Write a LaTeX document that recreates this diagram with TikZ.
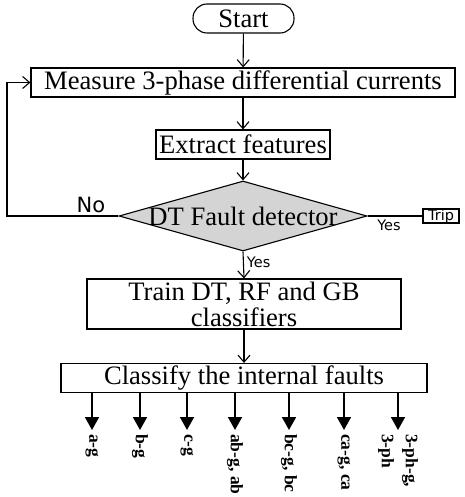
\documentclass[tikz,border=0pt]{standalone}
\usepackage{fontspec}
\setmainfont{Liberation Serif}
\newfontfamily\labelsans{DejaVu Sans}
\usepackage{tikz}
\usetikzlibrary{arrows.meta}
\usetikzlibrary{shapes.geometric}
\usetikzlibrary{calc,positioning}
\definecolor{detgray}{RGB}{212,212,212}

\begin{document}
\begin{tikzpicture}[x=1pt, y=-1pt,
    >={Straight Barb[length=7pt,width=12pt]},
    box/.style={draw, line width=1.1pt, inner sep=0pt, minimum height=29pt,
        font=\fontsize{26.6}{26}\selectfont},
    decision/.style={draw, line width=1.1pt, diamond, fill=detgray, inner sep=0pt,
        minimum width=248pt, minimum height=70pt, font=\fontsize{26.6}{26}\selectfont},
    flow/.style={->, line width=1.1pt},
    faultarrow/.style={-{Triangle[length=13pt,width=14pt]}, line width=1.8pt},
    faultlabel/.style={rotate=-90, anchor=west, align=left, inner sep=0pt,
        font=\fontsize{17.5}{24}\selectfont\bfseries},
    smalltext/.style={font=\labelsans\fontsize{14.5}{16}\selectfont, inner sep=0pt}]

    \useasboundingbox (0,0) rectangle (464,497);

    \node[box, rounded corners=14pt, minimum width=101pt] (start) at (243.5,18.5) {Start};
    \node[box, minimum width=424pt] (measure) at (243,82.5) {Measure 3-phase differential currents};
    \node[box, minimum width=174pt] (extract) at (243,144.5) {Extract features};
    \node[decision] (detect) at (243,216) {\clap{DT Fault detector}};
    \node[box, minimum width=314pt, minimum height=50pt, align=center] (train) at (244,304) {Train DT, RF and GB\\classifiers};
    \node[box, minimum width=366pt] (classify) at (244,378) {Classify the internal faults};
    \node[draw, line width=1.1pt, smalltext, minimum width=36pt, minimum height=14pt] (trip) at (441,216) {Trip};

    \draw[flow] (start) -- (measure);
    \draw[flow] (measure) -- (extract);
    \draw[flow] (extract) -- (detect);
    \draw[flow] (detect.south) -- (train.north) node[pos=0.4, right=3pt, smalltext] {Yes};
    \draw[flow] (train) -- (classify);

    \coordinate (loop) at (7,216);
    \draw[flow] (detect.west) -- (loop) |- (measure.west);
    \node[font=\labelsans\fontsize{21}{22}\selectfont, inner sep=0pt] (no) at (91,205) {No};

    \draw[line width=1.1pt] (detect.east) -- (trip.west);
    \node[smalltext] (yes) at (389,225) {Yes};

    \foreach \x/\fault [count=\i] in {92/a-g, 140/b-g, 187/c-g, 235/{ab-g, ab},
        289/{bc-g, bc}, 344/{ca-g, ca}, 398/{3-ph-g,\\3-ph}} {
        \coordinate (f\i) at (\x,430);
        \draw[faultarrow] (classify.south -| f\i) -- (f\i);
        \node[faultlabel] (l\i) at (\x,434) {\fault};
    }

\end{tikzpicture}
\end{document}
